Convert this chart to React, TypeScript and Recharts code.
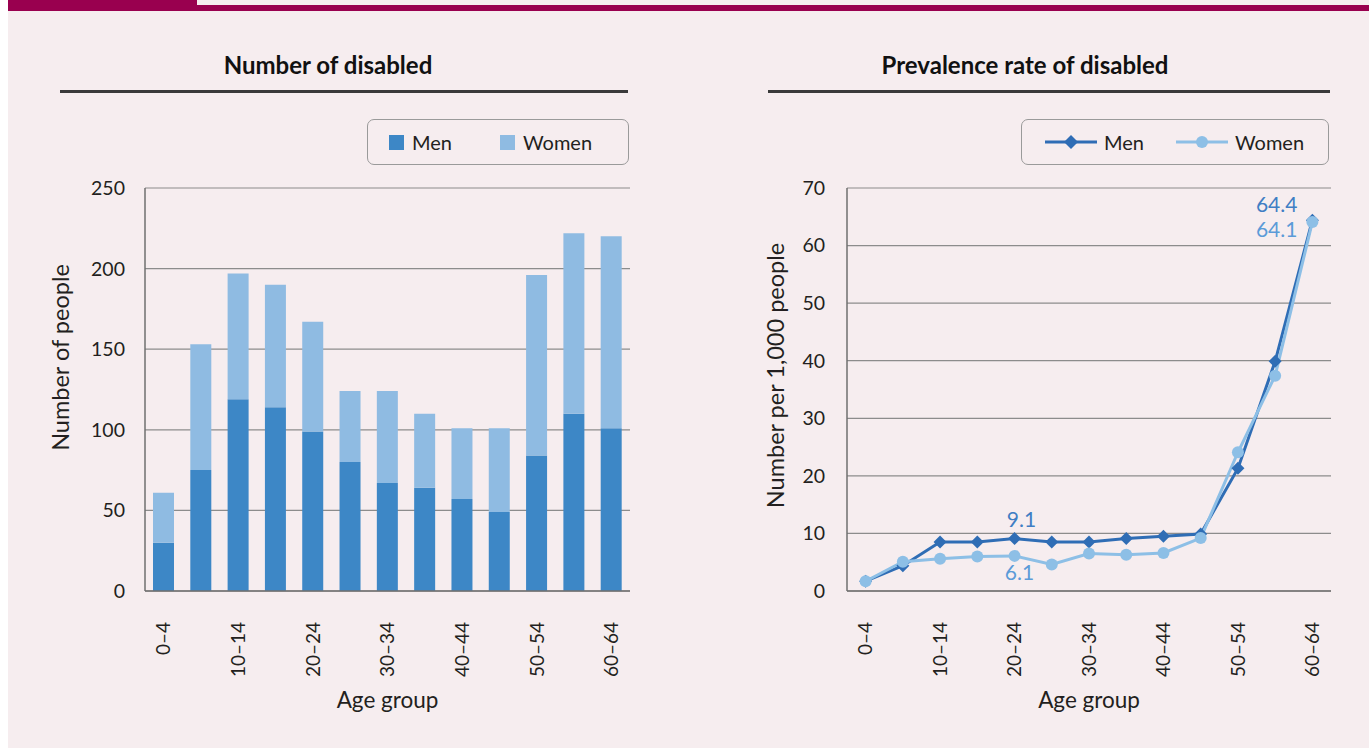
import React from 'react';
import {
  BarChart, Bar, LineChart, Line, XAxis, YAxis, CartesianGrid, Legend, Label,
} from 'recharts';

const ageGroups = ['0–4', '5–9', '10–14', '15–19', '20–24', '25–29', '30–34', '35–39', '40–44', '45–49', '50–54', '55–59', '60–64'];
const menCount = [30, 75, 119, 114, 99, 80, 67, 64, 57, 49, 84, 110, 101];
const womenCount = [31, 78, 78, 76, 68, 44, 57, 46, 44, 52, 112, 112, 119];
const menRate = [1.7, 4.4, 8.5, 8.5, 9.1, 8.5, 8.5, 9.1, 9.5, 9.9, 21.3, 39.9, 64.4];
const womenRate = [1.7, 5.1, 5.6, 6.0, 6.1, 4.6, 6.5, 6.3, 6.6, 9.2, 24.1, 37.4, 64.1];
const countTicks = [0, 50, 100, 150, 200, 250];
const rateTicks = [0, 10, 20, 30, 40, 50, 60, 70];
const boundaryTicks = [0, 1, 2, 3, 4, 5, 6, 7, 8, 9, 10, 11, 12, 13];
const labelledIdx = [4, 12];

const FONT = 'Lato, "Open Sans", sans-serif';
const TEXT = '#231f20';
const MEN_BAR = '#3d87c6';
const WOMEN_BAR = '#8fbbe2';
const MEN_LINE = '#2f6db5';
const WOMEN_LINE = '#8dbfe6';
const GRID = '#8c8c8c';
const AXIS = '#6f6f6f';

const countData = ageGroups.map((age, i) => ({ age, men: menCount[i], women: womenCount[i] }));
const rateData = ageGroups.map((age, i) => ({ age, men: menRate[i], women: womenRate[i] }));

const AgeTick = (props: any) => {
  const { x, y, payload } = props;
  return (
    <text
      x={x}
      y={y + 22}
      transform={`rotate(-90 ${x} ${y + 22})`}
      textAnchor="end"
      dy="0.36em"
      fill={TEXT}
      fontSize={19}
      fontFamily={FONT}
    >
      {payload.value}
    </text>
  );
};

const Diamond = (props: any) => {
  const { cx, cy } = props;
  if (cx == null || cy == null) return null;
  const r = 6.5;
  return <polygon points={`${cx},${cy - r} ${cx + r},${cy} ${cx},${cy + r} ${cx - r},${cy}`} fill={MEN_LINE} />;
};

const Dot = (props: any) => {
  const { cx, cy } = props;
  if (cx == null || cy == null) return null;
  return <circle cx={cx} cy={cy} r={6} fill={WOMEN_LINE} />;
};

const menLabel = (props: any) => {
  const { x, y, index, value } = props;
  if (!labelledIdx.includes(index)) return null;
  const last = index === ageGroups.length - 1;
  return (
    <text
      x={last ? x - 15 : x + 7}
      y={last ? y - 8 : y - 12}
      textAnchor={last ? 'end' : 'middle'}
      fill="#3f7ec4"
      fontSize={21}
      fontFamily={FONT}
    >
      {value}
    </text>
  );
};

const womenLabel = (props: any) => {
  const { x, y, index, value } = props;
  if (!labelledIdx.includes(index)) return null;
  const last = index === ageGroups.length - 1;
  return (
    <text
      x={last ? x - 15 : x + 5}
      y={last ? y + 15 : y + 24}
      textAnchor={last ? 'end' : 'middle'}
      fill="#5b9bd8"
      fontSize={21}
      fontFamily={FONT}
    >
      {value.toFixed(1)}
    </text>
  );
};

// rotated y-axis title, nudged up from the plot centre like the original
const yTitle = (text: string, offset: number, shiftUp: number) => (props: any) => {
  const { x, y, height } = props.viewBox;
  const cx = x + offset;
  const cy = y + height / 2 - shiftUp;
  return (
    <text
      x={cx}
      y={cy}
      transform={`rotate(-90 ${cx} ${cy})`}
      textAnchor="middle"
      dominantBaseline="central"
      fill={TEXT}
      fontSize={23.5}
      fontFamily={FONT}
    >
      {text}
    </text>
  );
};

const legendBox: React.CSSProperties = {
  boxSizing: 'border-box',
  height: 46,
  border: '1.5px solid #9a9a9a',
  borderRadius: 7,
  display: 'flex',
  alignItems: 'center',
  fontFamily: FONT,
  fontSize: 20,
  color: TEXT,
};

const BarLegend = () => (
  <div style={{ ...legendBox, width: 262, paddingLeft: 21 }}>
    <span style={{ width: 15, height: 15, background: MEN_BAR, display: 'inline-block' }} />
    <span style={{ marginLeft: 8, width: 88 }}>Men</span>
    <span style={{ width: 15, height: 15, background: WOMEN_BAR, display: 'inline-block' }} />
    <span style={{ marginLeft: 8 }}>Women</span>
  </div>
);

const LineLegend = () => (
  <div style={{ ...legendBox, width: 308, paddingLeft: 23 }}>
    <svg width={52} height={16}>
      <line x1={0} y1={8} x2={52} y2={8} stroke={MEN_LINE} strokeWidth={3} />
      <polygon points="26,1 33,8 26,15 19,8" fill={MEN_LINE} />
    </svg>
    <span style={{ marginLeft: 7, width: 72 }}>Men</span>
    <svg width={52} height={16}>
      <line x1={0} y1={8} x2={52} y2={8} stroke={WOMEN_LINE} strokeWidth={3} />
      <circle cx={26} cy={8} r={6} fill={WOMEN_LINE} />
    </svg>
    <span style={{ marginLeft: 7 }}>Women</span>
  </div>
);

const tickStyle = { fill: TEXT, fontSize: 19.5, fontFamily: FONT };
const axisLabelStyle = { fill: TEXT, fontSize: 22.5, fontFamily: FONT, textAnchor: 'middle' as const };

const Title = ({ text, left, width, shift }: { text: string; left: number; width: number; shift: number }) => (
  <div style={{ position: 'absolute', left, top: 0, width }}>
    <div
      style={{
        position: 'absolute', top: 50, left: shift, width: '100%', textAlign: 'center',
        fontWeight: 700, fontSize: 24, fontFamily: FONT, color: '#111',
      }}
    >
      {text}
    </div>
    <div style={{ position: 'absolute', top: 90, width: '100%', height: 3, background: '#3a3a3a' }} />
  </div>
);

export default function App() {
  return (
    <div style={{ position: 'absolute', left: 0, top: 0, width: 1369, height: 748, background: '#fff', overflow: 'hidden' }}>
      <div style={{ position: 'absolute', left: 8, top: 0, width: 1361, height: 748, background: '#f6edef' }} />
      <div style={{ position: 'absolute', left: 8, top: 0, width: 189, height: 11, background: '#99004f' }} />
      <div style={{ position: 'absolute', left: 197, top: 5, width: 1172, height: 6, background: '#99004f' }} />

      <Title text="Number of disabled" left={60} width={568} shift={-16} />
      <Title text="Prevalence rate of disabled" left={768} width={562} shift={-24} />

      <div style={{ position: 'absolute', left: 0, top: 100 }}>
        <BarChart width={660} height={620} data={countData} margin={{ top: 88, right: 30, left: 40, bottom: 0 }}>
          <CartesianGrid xAxisId="b_cat" vertical={false} stroke={GRID} strokeWidth={1.2} />
          <XAxis
            xAxisId="b_cat"
            dataKey="age"
            interval={1}
            axisLine={false}
            tickLine={false}
            tick={<AgeTick />}
            height={128}
          >
            <Label value="Age group" position="insideBottom" offset={12} style={axisLabelStyle} />
          </XAxis>
          <XAxis
            xAxisId="a_edges"
            type="number"
            domain={[0, 13]}
            ticks={boundaryTicks}
            tick={false}
            tickSize={7}
            height={1}
            stroke={AXIS}
            strokeWidth={1.5}
          />
          <YAxis
            domain={[0, 250]}
            ticks={countTicks}
            tick={tickStyle}
            tickLine={false}
            tickMargin={14}
            width={105}
            stroke={AXIS}
            strokeWidth={1.5}
          >
            <Label content={yTitle('Number of people', 20, 32)} />
          </YAxis>
          <Legend
            layout="horizontal"
            verticalAlign="middle"
            content={<BarLegend />}
            wrapperStyle={{ top: 19, left: 367, width: 262 }}
          />
          <Bar xAxisId="b_cat" dataKey="men" name="Men" stackId="a" fill={MEN_BAR} barSize={21} isAnimationActive={false} />
          <Bar xAxisId="b_cat" dataKey="women" name="Women" stackId="a" fill={WOMEN_BAR} barSize={21} isAnimationActive={false} />
        </BarChart>
      </div>

      <div style={{ position: 'absolute', left: 720, top: 100 }}>
        <LineChart width={640} height={620} data={rateData} margin={{ top: 88, right: 29, left: 40, bottom: 0 }}>
          <CartesianGrid xAxisId="b_cat" vertical={false} stroke={GRID} strokeWidth={1.2} />
          <XAxis
            xAxisId="b_cat"
            dataKey="age"
            scale="band"
            interval={1}
            axisLine={false}
            tickLine={false}
            tick={<AgeTick />}
            height={128}
          >
            <Label value="Age group" position="insideBottom" offset={12} style={axisLabelStyle} />
          </XAxis>
          <XAxis
            xAxisId="a_edges"
            type="number"
            domain={[0, 13]}
            ticks={boundaryTicks}
            tick={false}
            tickSize={7}
            height={1}
            stroke={AXIS}
            strokeWidth={1.5}
          />
          <YAxis
            domain={[0, 70]}
            ticks={rateTicks}
            tick={tickStyle}
            tickLine={false}
            tickMargin={16}
            width={87}
            stroke={AXIS}
            strokeWidth={1.5}
          >
            <Label content={yTitle('Number per 1,000 people', 15, 14)} />
          </YAxis>
          <Legend
            layout="horizontal"
            verticalAlign="middle"
            content={<LineLegend />}
            wrapperStyle={{ top: 19, left: 301, width: 308 }}
          />
          <Line
            xAxisId="b_cat"
            dataKey="men"
            name="Men"
            stroke={MEN_LINE}
            strokeWidth={3}
            dot={<Diamond />}
            label={menLabel}
            isAnimationActive={false}
          />
          <Line
            xAxisId="b_cat"
            dataKey="women"
            name="Women"
            stroke={WOMEN_LINE}
            strokeWidth={3}
            dot={<Dot />}
            label={womenLabel}
            isAnimationActive={false}
          />
        </LineChart>
      </div>
    </div>
  );
}
